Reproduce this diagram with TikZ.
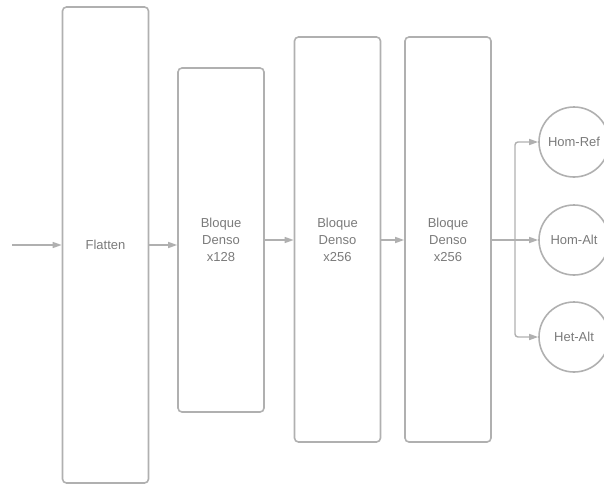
\documentclass[tikz,border=0pt]{standalone}
\usepackage{fontspec}
\setmainfont{Liberation Sans}
\usepackage{tikz}
\usetikzlibrary{arrows.meta,positioning}

\definecolor{edgegray}{HTML}{B0B0B0}
\definecolor{textgray}{HTML}{7A7A7A}

\begin{document}
\begin{tikzpicture}
[x=1pt,y=1pt,
   layer/.style={draw=edgegray,line width=1.6pt,rounded corners=4pt,
     minimum width=86pt,inner sep=0pt,align=center,text=textgray,
     font=\fontsize{13}{17}\selectfont},
   classnode/.style={draw=edgegray,line width=1.6pt,circle,minimum size=70pt,
     inner sep=0pt,text=textgray,font=\fontsize{13}{17}\selectfont},
   link/.style={draw=edgegray,line width=1.4pt,
     -{Triangle[length=9pt,width=6pt]}}]
\clip (0,0) rectangle (604,-485);
\useasboundingbox (0,0) rectangle (604,-485);

% layers
\node[layer,minimum height=476pt] (flat) at (105.5,-245) {Flatten};
\node[layer,minimum height=344pt] (d1) at (221,-240) {Bloque\\Denso\\x128};
\node[layer,minimum height=405pt] (d2) at (337.5,-239.5) {Bloque\\Denso\\x256};
\node[layer,minimum height=405pt] (d3) at (448,-239.5) {Bloque\\Denso\\x256};

% output classes
\node[classnode] (ref) at (574,-142) {Hom-Ref};
\node[classnode] (alt) at (574,-240) {Hom-Alt};
\node[classnode] (het) at (574,-337) {Het-Alt};

\coordinate (in) at (12,-245);
\coordinate (split) at (515,-240);

\draw[link] (in) -- (flat.west |- in);
\draw[link] (flat.east |- in) -- (d1.west |- in);
\draw[link] (d1.east) -- (d2.west |- d1.east);
\draw[link] (d2.east |- d1.east) -- (d3.west |- d1.east);
\draw[link] (d3.east |- alt) -- (alt.west);
\draw[link,rounded corners=3pt] (split) |- (ref.west);
\draw[link,rounded corners=3pt] (split) |- (het.west);
\end{tikzpicture}
\end{document}
